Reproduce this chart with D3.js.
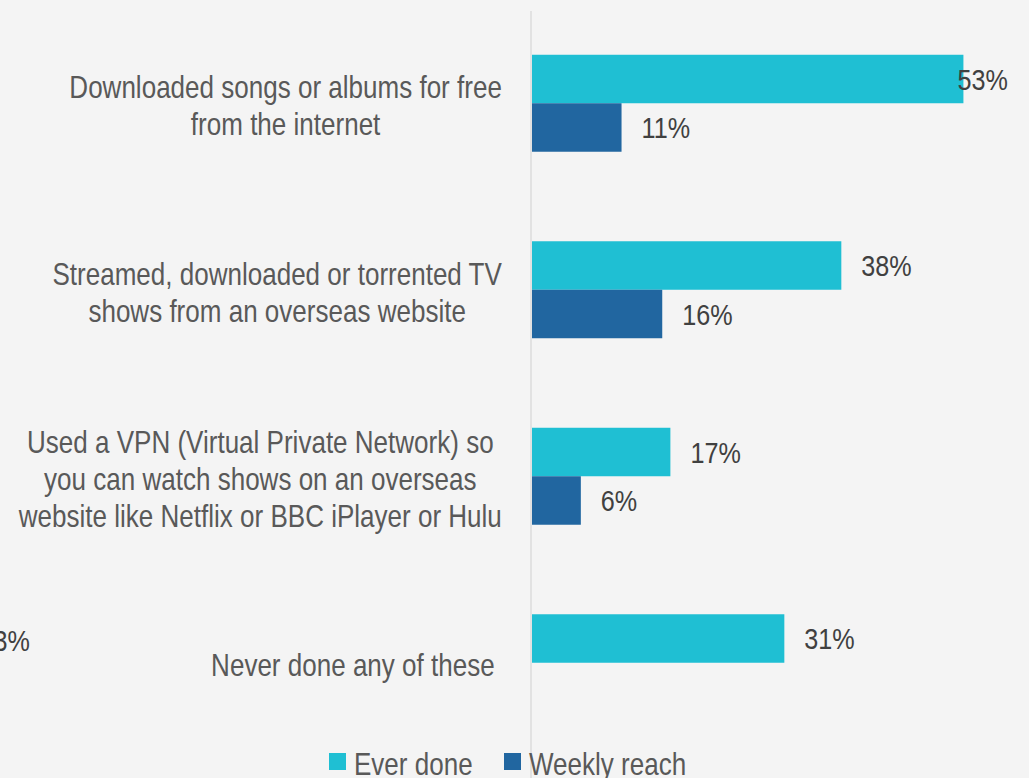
<!DOCTYPE html>
<html>
<head>
<meta charset="utf-8">
<script src="https://cdn.jsdelivr.net/npm/d3@7"></script>
<style>
  html, body { margin: 0; padding: 0; background: #f4f4f4; overflow: hidden; }
  svg { display: block; font-family: "Liberation Sans", Arial, sans-serif; }
</style>
</head>
<body>
<svg id="chart" width="1029" height="778"></svg>
<script>
// Survey categories (each entry is a list of wrapped lines)
const categories = [
  ["Downloaded songs or albums for free", "from the internet"],
  ["Streamed, downloaded or torrented TV", "shows from an overseas website"],
  ["Used a VPN (Virtual Private Network) so", "you can watch shows on an overseas", "website like Netflix or BBC iPlayer or Hulu"],
  ["Never done any of these "]
];
const seriesNames = ["Ever done", "Weekly reach"];
const everDone = [53, 38, 17, 31];
const weeklyReach = [11, 16, 6, null];
const strayLabels = ["3%"];

const colors = { "Ever done": "#1fbfd3", "Weekly reach": "#2166a0" };

const W = 1029, H = 778;
const SX = 0.84; // horizontal squeeze giving a narrow typeface look
const svg = d3.select("#chart");
svg.append("rect").attr("width", W).attr("height", H).attr("fill", "#f4f4f4");

const keys = categories.map((c, i) => "c" + i);
const y = d3.scaleBand().domain(keys).range([10, 756]).paddingInner(0.48).paddingOuter(0.24);
const ySub = d3.scaleBand().domain(seriesNames).range([0, y.bandwidth()]);
const x = d3.scaleLinear().domain([0, 60]).range([532, 1020.4]);

// Category axis line
svg.append("line")
  .attr("x1", 531).attr("x2", 531).attr("y1", 11).attr("y2", H)
  .attr("stroke", "#dcdcdc").attr("stroke-width", 1.5);

// Draws a horizontally squeezed text; returns the selection
function narrowText(parent, str, size, fill, anchor) {
  const t = parent.append("text")
    .attr("font-size", size).attr("fill", fill)
    .attr("text-anchor", anchor || "start")
    .style("white-space", "pre")
    .text(str);
  return t;
}
function place(t, px, py) {
  t.attr("transform", `translate(${px},${py}) scale(${SX},1)`);
}

const rows = [];
keys.forEach((k, i) => {
  rows.push({ key: k, series: "Ever done", value: everDone[i] });
  if (weeklyReach[i] != null) rows.push({ key: k, series: "Weekly reach", value: weeklyReach[i] });
});

svg.append("g").selectAll("rect").data(rows).join("rect")
  .attr("x", x(0))
  .attr("y", d => y(d.key) + ySub(d.series))
  .attr("width", d => x(d.value) - x(0))
  .attr("height", ySub.bandwidth())
  .attr("fill", d => colors[d.series]);

// Value labels, kept inside the right edge
const rightLimit = 1008;
const valG = svg.append("g");
rows.forEach(d => {
  const t = narrowText(valG, d.value + "%", 30, "#404040").attr("dy", "0.35em");
  const w = t.node().getComputedTextLength() * SX;
  let px = x(d.value) + 20;
  if (px + w > rightLimit) px = rightLimit - w;
  place(t, px, y(d.key) + ySub(d.series) + ySub.bandwidth() / 2);
});

// Category labels: centred lines, block right-aligned to the axis gutter
const labelRight = 502, lineGap = 37;
keys.forEach((k, i) => {
  const lines = categories[i];
  const g = svg.append("g");
  const cy = y(k) + y.bandwidth() / 2 + 2.5;
  const texts = lines.map(s => narrowText(g, s, 31, "#595959", "middle").attr("dy", "0.35em"));
  const maxW = d3.max(texts, t => t.node().getComputedTextLength() * SX);
  texts.forEach((t, j) => place(t, labelRight - maxW / 2, cy + (j - (lines.length - 1) / 2) * lineGap));
});

// Stray label at the left edge
const strayG = svg.append("g");
strayLabels.forEach(s => {
  const t = narrowText(strayG, s, 30, "#404040", "end").attr("dy", "0.35em");
  place(t, 30, 640);
});

// Legend
const legendPos = [{ name: "Ever done", x: 329 }, { name: "Weekly reach", x: 504 }];
const lg = svg.append("g");
legendPos.forEach(d => {
  lg.append("rect").attr("x", d.x).attr("y", 753).attr("width", 17).attr("height", 17)
    .attr("fill", colors[d.name]);
  place(narrowText(lg, d.name, 31, "#595959"), d.x + 25, 775);
});
</script>
</body>
</html>
